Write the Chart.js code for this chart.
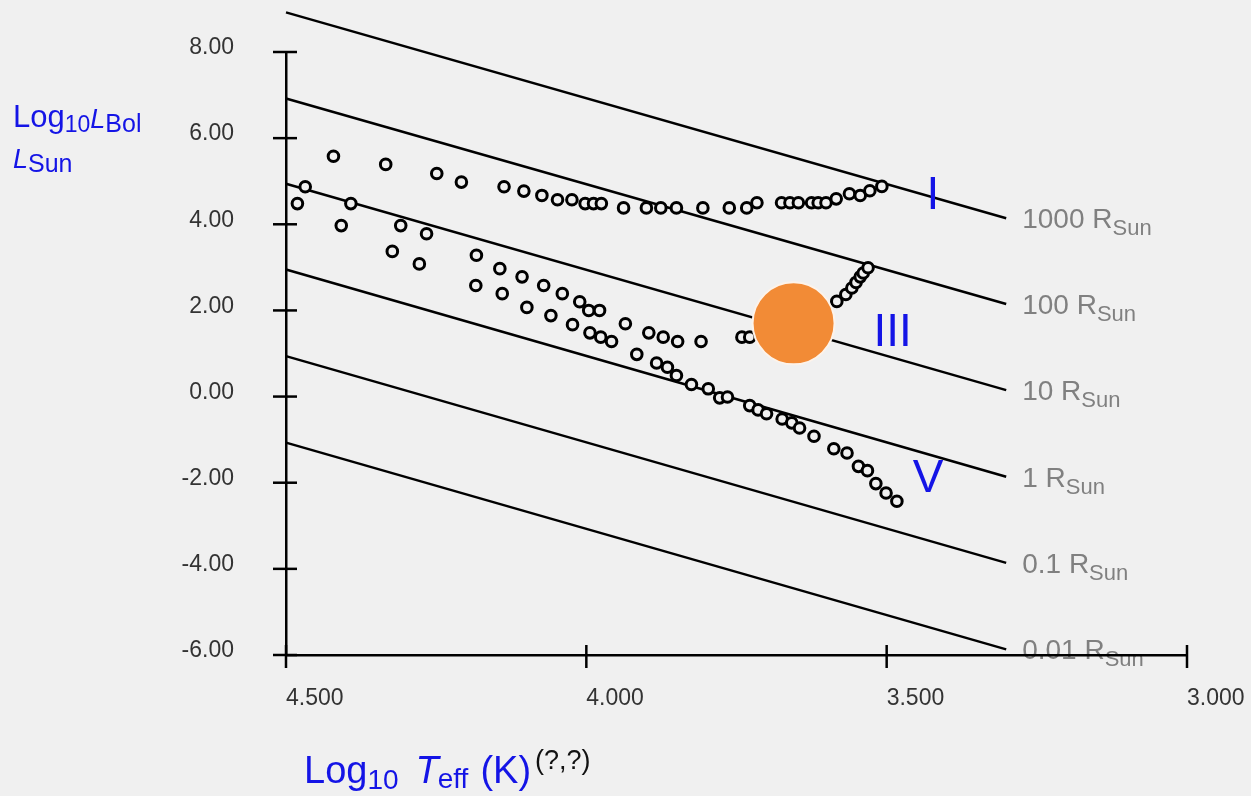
<!DOCTYPE html>
<html>
<head>
<meta charset="utf-8">
<style>
  html, body { margin: 0; padding: 0; background: #f0f0f0; }
  #chart { display: block; }
</style>
<script src="https://cdn.jsdelivr.net/npm/chart.js@4.4.1/dist/chart.umd.min.js"></script>
</head>
<body>
<canvas id="chart" width="1251" height="796"></canvas>
<script>
// stars: log10 Teff (K) and log10 L/Lsun
const starLogT = [
    4.548, 4.421, 4.334, 4.249, 4.208, 4.137, 4.104, 4.074, 4.048, 4.024, 4.002, 3.988, 3.975,
    3.938, 3.900, 3.876, 3.850, 3.806, 3.762, 3.733, 3.716, 3.675, 3.661, 3.647, 3.625, 3.614,
    3.601, 3.584, 3.562, 3.544, 3.528, 3.508,
    4.468, 4.481, 4.392, 4.408, 4.309, 4.266, 4.323, 4.278,
    4.183, 4.144, 4.107, 4.071, 4.040, 4.011, 3.996, 3.978, 3.935, 3.896, 3.872, 3.848, 3.809,
    3.741, 3.728,
    3.583, 3.568, 3.558, 3.551, 3.544, 3.539, 3.531,
    4.184, 4.140, 4.099, 4.059, 4.023, 3.994, 3.976, 3.958, 3.916, 3.883, 3.865, 3.850, 3.825,
    3.797, 3.778, 3.765, 3.728, 3.714, 3.700, 3.674, 3.658, 3.645, 3.621, 3.588, 3.566, 3.547,
    3.532, 3.518, 3.501, 3.483
];
const starLogL = [
    5.39, 5.58, 5.39, 5.18, 4.98, 4.87, 4.77, 4.67, 4.57, 4.57, 4.48, 4.48, 4.48,
    4.38, 4.38, 4.38, 4.38, 4.38, 4.38, 4.38, 4.50, 4.50, 4.50, 4.50, 4.50, 4.50,
    4.50, 4.59, 4.71, 4.67, 4.78, 4.88,
    4.87, 4.48, 4.48, 3.97, 3.97, 3.78, 3.37, 3.08,
    3.28, 2.97, 2.78, 2.58, 2.39, 2.20, 2.00, 2.00, 1.69, 1.48, 1.38, 1.28, 1.28,
    1.38, 1.38,
    2.21, 2.37, 2.52, 2.65, 2.78, 2.87, 2.99,
    2.58, 2.39, 2.07, 1.88, 1.67, 1.48, 1.38, 1.28, 0.98, 0.78, 0.68, 0.49, 0.28,
    0.18, -0.03, -0.01, -0.21, -0.31, -0.40, -0.52, -0.61, -0.73, -0.92, -1.21, -1.31, -1.62,
    -1.72, -2.02, -2.24, -2.43
];

const sunLogT = [3.655];
const sunLogL = [1.70];

// lines of constant radius, from logT 4.5 down to 3.301
const radiusNames = ['1000', '100', '10', '1', '0.1', '0.01'];
const radiusT = [4.5, 3.301];
const radiusStartL = [8.92, 6.92, 4.94, 2.95, 0.94, -1.07];
const radiusEndL = [4.14, 2.15, 0.15, -1.86, -3.86, -5.87];

// luminosity classes
const classNames = ['I', 'III', 'V'];
const classT = [3.423, 3.490, 3.431];
const classL = [4.74, 1.56, -1.83];

const FONT = '"Liberation Sans", Arial, sans-serif';
const BLUE = '#1414e6';
const GRAY = '#808080';

function drawParts(ctx, x, y, parts) {
    parts.forEach(p => {
        ctx.font = p.font;
        ctx.fillStyle = p.color;
        ctx.fillText(p.text, x, y + (p.dy || 0));
        x += ctx.measureText(p.text).width + (p.gap || 0);
    });
}

function line(ctx, x1, y1, x2, y2) {
    ctx.beginPath();
    ctx.moveTo(x1, y1);
    ctx.lineTo(x2, y2);
    ctx.stroke();
}

// keep the tick padding from pushing the plot area in
function noScalePadding(s) {
    s.paddingTop = 0;
    s.paddingBottom = 0;
    s.paddingLeft = 0;
    s.paddingRight = 0;
}

const radiusLabels = {
    id: 'radiusLabels',
    beforeDatasetsDraw(chart) {
        const ctx = chart.ctx, xs = chart.scales.x, ys = chart.scales.y;
        ctx.save();
        ctx.textAlign = 'left';
        ctx.textBaseline = 'alphabetic';
        radiusNames.forEach((name, i) => {
            const px = xs.getPixelForValue(radiusT[1]) + 16;
            const py = ys.getPixelForValue(radiusEndL[i]) + 10;
            drawParts(ctx, px, py, [
                {text: name + ' R', font: '28px ' + FONT, color: GRAY},
                {text: 'Sun', font: '22px ' + FONT, color: GRAY, dy: 7}
            ]);
        });
        ctx.restore();
    }
};

const decorations = {
    id: 'decorations',
    afterDraw(chart) {
        const ctx = chart.ctx, xs = chart.scales.x, ys = chart.scales.y;
        const area = chart.chartArea;
        ctx.save();

        // tick marks crossing the axes
        ctx.strokeStyle = '#000';
        ctx.lineWidth = 2.5;
        ys.ticks.forEach(t => {
            const p = ys.getPixelForValue(t.value);
            line(ctx, area.left - 13, p, area.left + 11, p);
        });
        xs.ticks.forEach(t => {
            const p = xs.getPixelForValue(t.value);
            line(ctx, p, area.bottom - 10, p, area.bottom + 13);
        });

        // luminosity class labels
        ctx.font = '46px ' + FONT;
        ctx.fillStyle = BLUE;
        ctx.textAlign = 'center';
        ctx.textBaseline = 'alphabetic';
        classNames.forEach((name, i) => {
            ctx.fillText(name, xs.getPixelForValue(classT[i]), ys.getPixelForValue(classL[i]) + 16.5);
        });

        // axis titles
        ctx.textAlign = 'left';
        drawParts(ctx, 13, 127, [
            {text: 'Log', font: '31px ' + FONT, color: BLUE},
            {text: '10', font: '23px ' + FONT, color: BLUE, dy: 5},
            {text: 'L', font: 'italic 27px ' + FONT, color: BLUE, dy: 1},
            {text: 'Bol', font: '25px ' + FONT, color: BLUE, dy: 5}
        ]);
        drawParts(ctx, 13, 168, [
            {text: 'L', font: 'italic 27px ' + FONT, color: BLUE},
            {text: 'Sun', font: '25px ' + FONT, color: BLUE, dy: 4}
        ]);
        drawParts(ctx, 304, 783, [
            {text: 'Log', font: '38px ' + FONT, color: BLUE},
            {text: '10', font: '28px ' + FONT, color: BLUE, dy: 6, gap: 17},
            {text: 'T', font: 'italic 38px ' + FONT, color: BLUE, gap: -1},
            {text: 'eff', font: '28px ' + FONT, color: BLUE, dy: 5, gap: 12},
            {text: '(K)', font: '38px ' + FONT, color: BLUE, gap: 4},
            {text: '(?,?)', font: '27px ' + FONT, color: '#111', dy: -14}
        ]);
        ctx.restore();
    }
};

const datasets = [
    {
        label: 'Sun',
        data: sunLogT.map((t, i) => ({x: t, y: sunLogL[i]})),
        pointRadius: 41,
        backgroundColor: '#f28b36',
        borderColor: '#fdf3ea',
        borderWidth: 2,
        order: 0
    },
    {
        label: 'Stars',
        data: starLogT.map((t, i) => ({x: t, y: starLogL[i]})),
        pointRadius: 5.3,
        backgroundColor: '#f0f0f0',
        borderColor: '#000',
        borderWidth: 3,
        order: 1
    }
];
radiusNames.forEach((name, i) => {
    datasets.push({
        label: name + ' RSun',
        data: [{x: radiusT[0], y: radiusStartL[i]}, {x: radiusT[1], y: radiusEndL[i]}],
        showLine: true,
        pointRadius: 0,
        borderColor: '#000',
        borderWidth: 2.5,
        clip: false,
        order: 2
    });
});

const canvas = document.getElementById('chart');
new Chart(canvas.getContext('2d'), {
    type: 'scatter',
    data: {datasets: datasets},
    options: {
        responsive: false,
        animation: false,
        devicePixelRatio: 1,
        events: [],
        layout: {padding: {top: 52, right: 64, bottom: 0, left: 0}},
        plugins: {legend: {display: false}, tooltip: {enabled: false}},
        scales: {
            x: {
                type: 'linear',
                reverse: true,
                min: 3.0,
                max: 4.5,
                afterFit: s => { s.height = 141; noScalePadding(s); },
                grid: {display: false, drawTicks: false},
                border: {display: true, color: '#000', width: 2.5, z: 1},
                ticks: {
                    stepSize: 0.5,
                    align: 'start',
                    padding: 30,
                    color: '#333',
                    font: {family: FONT, size: 23},
                    callback: v => v.toFixed(3)
                }
            },
            y: {
                type: 'linear',
                min: -6,
                max: 8,
                afterFit: s => { s.width = 286; noScalePadding(s); },
                grid: {display: false, drawTicks: false},
                border: {display: true, color: '#000', width: 2.5, z: 1},
                ticks: {
                    stepSize: 2,
                    padding: 52,
                    labelOffset: -4,
                    color: '#333',
                    font: {family: FONT, size: 23},
                    callback: v => v.toFixed(2)
                }
            }
        }
    },
    plugins: [radiusLabels, decorations]
});
</script>
</body>
</html>
